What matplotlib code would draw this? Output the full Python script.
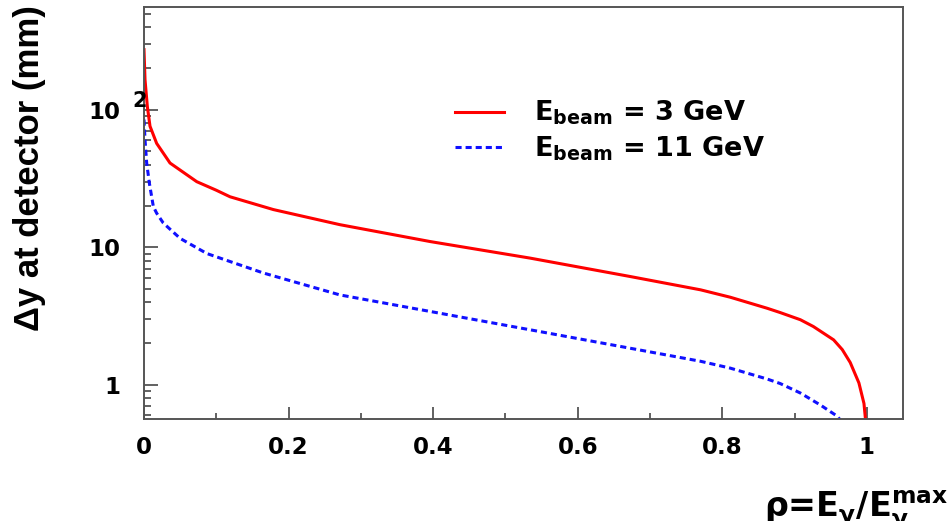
import matplotlib
matplotlib.use("Agg")
import matplotlib.pyplot as plt
from matplotlib.ticker import FixedLocator, LogLocator, NullFormatter, MultipleLocator

# ---- data ----
rho_3 = [0.0, 0.0014, 0.0046, 0.0083, 0.0175, 0.036, 0.073, 0.1, 0.119, 0.179, 0.271,
         0.396, 0.534, 0.673, 0.77, 0.811, 0.862, 0.88, 0.908, 0.926, 0.954,
         0.966, 0.977, 0.989, 0.996, 0.999]
dy_3 = [274, 166, 106, 76, 57, 41, 30, 26, 23.3, 18.8, 14.6,
        11.0, 8.34, 6.12, 4.9, 4.33, 3.6, 3.35, 2.97, 2.65, 2.12,
        1.8, 1.45, 1.03, 0.73, 0.5]

rho_11 = [0.0, 0.0014, 0.0037, 0.0074, 0.0129, 0.0175, 0.0267, 0.05, 0.087, 0.165,
          0.271, 0.396, 0.534, 0.673, 0.77, 0.811, 0.862, 0.88, 0.908, 0.936,
          0.959, 0.97]
dy_11 = [85, 60.6, 41, 29.3, 19.8, 17.7, 15.0, 11.6, 9.0, 6.5,
         4.5, 3.41, 2.51, 1.84, 1.48, 1.32, 1.10, 1.02, 0.87, 0.71,
         0.59, 0.5]

labels = [r"E$_{\mathbf{beam}}$ = 3 GeV", r"E$_{\mathbf{beam}}$ = 11 GeV"]
xticks = [0, 0.2, 0.4, 0.6, 0.8, 1]
xticklabels = ["0", "0.2", "0.4", "0.6", "0.8", "1"]
yticks = [1, 10, 100]
yticklabels = ["1", "10", "10"]

plt.rcParams["font.family"] = ["DejaVu Sans"]
plt.rcParams["font.weight"] = "bold"
plt.rcParams["mathtext.fontset"] = "dejavusans"

fig = plt.figure(figsize=(9.52, 5.21), dpi=100)
ax = fig.add_axes([144 / 952, 1 - 419.3 / 521, (903 - 144) / 952, (419.3 - 7) / 521])

ax.plot(rho_3, dy_3, color="#ff0000", lw=2.2, label=labels[0])
ax.plot(rho_11, dy_11, color="#1010ff", lw=2.2, dashes=(2.0, 1.3), label=labels[1])

ax.set_yscale("log")
ax.set_xlim(0, 1.05)
ax.set_ylim(0.56, 560)

ax.xaxis.set_major_locator(FixedLocator(xticks))
ax.set_xticklabels(xticklabels)
ax.xaxis.set_minor_locator(MultipleLocator(0.1))
ax.yaxis.set_major_locator(FixedLocator(yticks))
ax.set_yticklabels(yticklabels)
ax.yaxis.set_minor_locator(LogLocator(base=10, subs=range(2, 10)))
ax.yaxis.set_minor_formatter(NullFormatter())

ax.tick_params(axis="both", which="both", direction="in", color="#555555",
               top=False, right=False)
ax.tick_params(axis="x", which="major", length=9, width=1.3, pad=12, labelsize=16.5)
ax.tick_params(axis="x", which="minor", length=4.5, width=1.3)
ax.tick_params(axis="y", which="major", length=10, width=1.3, pad=17, labelsize=16.5)
ax.tick_params(axis="y", which="minor", length=5, width=1.3)
for lab in ax.get_xticklabels() + ax.get_yticklabels():
    lab.set_fontweight("bold")

for sp in ax.spines.values():
    sp.set_color("#555555")
    sp.set_linewidth(1.4)

# superscript of 10^2 label
ax.annotate("2", xy=(0, 100), xycoords=("axes fraction", "data"),
            xytext=(-3, -0.5), textcoords="offset points", ha="center", va="bottom",
            fontsize=15, fontweight="bold")

leg = ax.legend(loc="upper left", bbox_to_anchor=(455 / 952, 1 - 99 / 521),
                bbox_transform=fig.transFigure, frameon=False, fontsize=19.5,
                handlelength=1.8, handletextpad=1.1, labelspacing=0.25, borderpad=0,
                borderaxespad=0)
for t in leg.get_texts():
    t.set_fontweight("bold")

fig.text(30 / 952, 1 - 168 / 521, "Δy at detector (mm)", rotation=90,
         ha="center", va="center", fontsize=25, fontweight="bold",
         family=["Liberation Sans", "DejaVu Sans"])
fig.text(948 / 952, 1 - 518 / 521,
         r"ρ=E$_{\mathbf{\gamma}}$/E$_{\mathbf{\gamma}}^{\mathbf{max}}$",
         ha="right", va="baseline", fontsize=24, fontweight="bold")

fig.savefig("out.png", dpi=100)
